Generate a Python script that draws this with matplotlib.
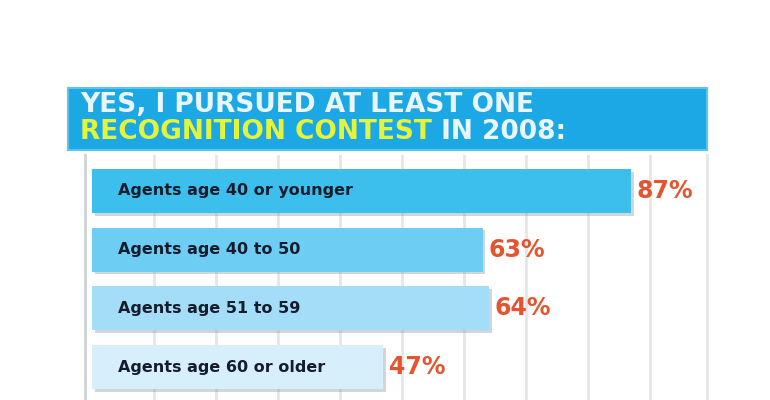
import matplotlib
matplotlib.use("Agg")
import matplotlib.pyplot as plt
from matplotlib.patches import Rectangle
from matplotlib.text import Annotation
import matplotlib.patheffects as pe

categories = ["Agents age 40 or younger", "Agents age 40 to 50",
              "Agents age 51 to 59", "Agents age 60 or older"]
values = [87, 63, 64, 47]
value_labels = ["87%", "63%", "64%", "47%"]
title_line1 = "YES, I PURSUED AT LEAST ONE"
title_line2a = "RECOGNITION CONTEST"
title_line2b = " IN 2008:"

bar_colors = ["#3DBFEE", "#6DCDF3", "#A3DDF7", "#D6EFFB"]

fig = plt.figure(figsize=(7.7, 4.0), dpi=100)
fig.patch.set_facecolor("white")

# header band
fig.patches.append(Rectangle((68/770, 1-150/400), 639/770, 62/400,
                             transform=fig.transFigure, facecolor="#1CA8E4",
                             edgecolor="#5CC4EE", linewidth=1.5, zorder=-1))
title_kw = dict(fontsize=19, fontweight="heavy", va="center", ha="left",
                family="DejaVu Sans")
t1 = fig.text(80/770, 1-105/400, title_line1, color="#EAF6FF", **title_kw)
t2 = fig.text(80/770, 1-132/400, title_line2a, color="#E4F43A", **title_kw)
t3 = Annotation(title_line2b, xy=(1, 0.5), xycoords=t2, color="#EAF6FF",
                annotation_clip=False, **title_kw)
fig.add_artist(t3)

ax = fig.add_axes([85/770, 0, 622/770, 245/400])

y = list(range(len(categories)))
bars = ax.barh(y, values, height=0.75, color=bar_colors, zorder=3)
for b in bars:
    b.set_path_effects([pe.SimplePatchShadow(offset=(2, -2), shadow_rgbFace="#9aa4aa", alpha=0.45),
                        pe.Normal()])

for i, (cat, v, lab) in enumerate(zip(categories, values, value_labels)):
    ax.annotate(cat, xy=(0, i), xytext=(19, 0), textcoords="offset points",
                va="center", ha="left", fontsize=11.5, fontweight="bold",
                color="#161C2C", zorder=5)
    ax.annotate(lab, xy=(v, i), xytext=(4, 0), textcoords="offset points",
                va="center", ha="left", fontsize=17, fontweight="heavy",
                color="#E4552F", zorder=5)

ax.set_xlim(-1.13, 99.2)
ax.set_ylim(3.56, -0.61)
ax.set_xticks(range(10, 100, 10))
ax.set_yticks([])
ax.xaxis.grid(True, color="#E4E6E8", linewidth=2, zorder=0)
ax.tick_params(axis="x", length=0, labelbottom=False)
for s in ["top", "bottom"]:
    ax.spines[s].set_visible(False)
ax.spines["left"].set_color("#CFD3D6")
ax.spines["left"].set_linewidth(2)
ax.spines["right"].set_color("#E4E6E8")
ax.spines["right"].set_linewidth(2)
ax.set_facecolor("white")

fig.savefig("out.png", dpi=100, facecolor="white")
